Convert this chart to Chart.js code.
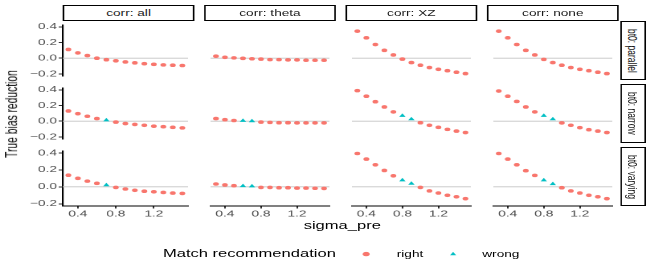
<!DOCTYPE html>
<html><head><meta charset="utf-8">
<script src="https://cdn.jsdelivr.net/npm/chart.js@4.4.1/dist/chart.umd.min.js"></script>
<style>
html,body{margin:0;padding:0;background:#fff;overflow:hidden;width:654px;height:273px;}
#fig{position:absolute;left:0;top:0;width:407px;height:273px;transform:scaleX(1.607);transform-origin:0 0;font-family:"Liberation Sans",Arial,Helvetica,sans-serif;overflow:hidden;}
#fig canvas{position:absolute;}
.strip{position:absolute;box-sizing:border-box;border:1px solid #000;background:#fff;color:#1a1a1a;font-size:8.5px;display:flex;align-items:center;justify-content:center;white-space:nowrap;}
.strip.v span{writing-mode:vertical-rl;}
.txt{position:absolute;white-space:nowrap;color:#000;line-height:1;}
</style></head><body><div id="fig"></div>
<script>
// ---------------- data ----------------
const sigmaPre = [0.3,0.4,0.5,0.6,0.7,0.8,0.9,1.0,1.1,1.2,1.3,1.4,1.5];
const corrLevels = ['all','theta','XZ','none'];
const bt0Levels = ['parallel','narrow','varying'];
const xTickValues = [0.4,0.8,1.2];
const yTickValues = [-0.2,0.0,0.2,0.4];
const matchLevels = ['right','wrong'];

// True bias reduction, one array per facet (bt0 x corr)
const parallel_all   = [0.111,0.067,0.033,0.000,-0.019,-0.033,-0.048,-0.059,-0.070,-0.078,-0.085,-0.089,-0.093];
const parallel_theta = [0.026,0.011,0.004,-0.002,-0.007,-0.011,-0.018,-0.018,-0.022,-0.022,-0.026,-0.026,-0.026];
const parallel_XZ    = [0.344,0.259,0.174,0.100,0.041,-0.011,-0.056,-0.089,-0.119,-0.141,-0.159,-0.178,-0.196];
const parallel_none  = [0.344,0.259,0.174,0.100,0.041,-0.015,-0.056,-0.089,-0.119,-0.141,-0.159,-0.178,-0.196];
const narrow_all     = [0.130,0.096,0.063,0.033,0.013,-0.011,-0.030,-0.041,-0.052,-0.063,-0.070,-0.078,-0.085];
const narrow_theta   = [0.033,0.019,0.009,0.006,0.002,-0.011,-0.015,-0.019,-0.019,-0.022,-0.022,-0.022,-0.022];
const narrow_XZ      = [0.389,0.318,0.248,0.181,0.118,0.070,0.026,-0.019,-0.052,-0.078,-0.104,-0.126,-0.144];
const narrow_none    = [0.384,0.318,0.251,0.181,0.118,0.070,0.026,-0.022,-0.052,-0.082,-0.108,-0.126,-0.144];
const varying_all    = [0.137,0.100,0.067,0.041,0.020,-0.007,-0.026,-0.041,-0.052,-0.059,-0.067,-0.074,-0.078];
const varying_theta  = [0.033,0.022,0.013,0.010,0.007,-0.007,-0.007,-0.011,-0.011,-0.015,-0.015,-0.017,-0.019];
const varying_XZ     = [0.393,0.327,0.260,0.193,0.130,0.078,0.038,-0.007,-0.048,-0.073,-0.100,-0.118,-0.140];
const varying_none   = [0.393,0.327,0.260,0.190,0.135,0.078,0.034,-0.011,-0.048,-0.073,-0.100,-0.118,-0.140];

// sigma_pre values where the match recommendation is "wrong"
const wrong_parallel_all = [],    wrong_parallel_theta = [],        wrong_parallel_XZ = [],        wrong_parallel_none = [];
const wrong_narrow_all   = [0.7], wrong_narrow_theta   = [0.6,0.7], wrong_narrow_XZ   = [0.8,0.9], wrong_narrow_none   = [0.8,0.9];
const wrong_varying_all  = [0.7], wrong_varying_theta  = [0.6,0.7], wrong_varying_XZ  = [0.8,0.9], wrong_varying_none  = [0.8,0.9];

const refLineValue = 0;

const facetValues = {
  parallel:{all:parallel_all,theta:parallel_theta,XZ:parallel_XZ,none:parallel_none},
  narrow:{all:narrow_all,theta:narrow_theta,XZ:narrow_XZ,none:narrow_none},
  varying:{all:varying_all,theta:varying_theta,XZ:varying_XZ,none:varying_none}
};
const facetWrong = {
  parallel:{all:wrong_parallel_all,theta:wrong_parallel_theta,XZ:wrong_parallel_XZ,none:wrong_parallel_none},
  narrow:{all:wrong_narrow_all,theta:wrong_narrow_theta,XZ:wrong_narrow_XZ,none:wrong_narrow_none},
  varying:{all:wrong_varying_all,theta:wrong_varying_theta,XZ:wrong_varying_XZ,none:wrong_varying_none}
};

// ---------------- layout / style ----------------
const COL_RIGHT = '#F8766D', COL_WRONG = '#00BFC4';
const FONT = '"Liberation Sans", Arial, Helvetica, sans-serif';
const colLeft = [39,127,215,303], PW = 82;
const rowTop = [21,84,147], PH = 59;
const XAXIS_H = 16;
const X_MIN = 0.24, X_MAX = 1.56, Y_MIN = -0.2265, Y_MAX = 0.4225;
const fig = document.getElementById('fig');

function fmt(v){ const s = Math.abs(v).toFixed(1); return (v < -1e-9 ? '\u2212' : '') + s; }

const hlinePlugin = {
  id:'hline',
  beforeDatasetsDraw(chart){
    const {ctx, chartArea:a, scales:{y}} = chart;
    const py = y.getPixelForValue(refLineValue);
    ctx.save(); ctx.strokeStyle = '#c4c4c4'; ctx.lineWidth = 0.8;
    ctx.beginPath(); ctx.moveTo(a.left, py); ctx.lineTo(a.right, py); ctx.stroke(); ctx.restore();
  }
};

function makeCanvas(left, top, w, h){
  const cv = document.createElement('canvas');
  cv.width = w; cv.height = h;
  cv.style.left = left + 'px'; cv.style.top = top + 'px';
  cv.style.width = w + 'px'; cv.style.height = h + 'px';
  fig.appendChild(cv);
  return cv;
}
function zeroPad(s){ s.paddingLeft = 0; s.paddingRight = 0; s.paddingTop = 0; s.paddingBottom = 0; }

bt0Levels.forEach((bt0, r) => {
  corrLevels.forEach((corr, c) => {
    const isLeft = c === 0, isBottom = r === 2;
    const left = isLeft ? 0 : colLeft[c];
    const w = isLeft ? colLeft[0] + PW : PW;
    const h = isBottom ? PH + XAXIS_H : PH;
    const vals = facetValues[bt0][corr], wrong = facetWrong[bt0][corr];
    const rightPts = [], wrongPts = [];
    sigmaPre.forEach((s, i) => {
      const isWrong = wrong.some(v => Math.abs(v - s) < 1e-9);
      (isWrong ? wrongPts : rightPts).push({x:s, y:vals[i]});
    });
    new Chart(makeCanvas(left, rowTop[r], w, h), {
      type:'scatter',
      data:{datasets:[
        {label:matchLevels[0], data:rightPts, pointStyle:'circle', pointRadius:1.8, backgroundColor:COL_RIGHT, borderWidth:0, clip:false},
        {label:matchLevels[1], data:wrongPts, pointStyle:'triangle', pointRadius:2.3, backgroundColor:COL_WRONG, borderWidth:0, clip:false}
      ]},
      options:{
        responsive:false, animation:false, events:[], devicePixelRatio:2,
        layout:{padding:0},
        plugins:{legend:{display:false}, tooltip:{enabled:false}},
        scales:{
          x:{type:'linear', min:X_MIN, max:X_MAX, bounds:'data', display:isBottom,
             afterFit:s=>{ s.height = isBottom ? XAXIS_H : 0; zeroPad(s); },
             afterBuildTicks:s=>{ s.ticks = xTickValues.map(v=>({value:v})); },
             ticks:{autoSkip:false, maxRotation:0, padding:0.5, color:'#4d4d4d', font:{family:FONT, size:8.5}, callback:v=>fmt(v)},
             grid:{display:true, drawOnChartArea:false, drawTicks:true, tickLength:2.5, color:'#333', lineWidth:1},
             border:{display:true, color:'#000', width:1}},
          y:{type:'linear', min:Y_MIN, max:Y_MAX, bounds:'data', display:isLeft,
             afterFit:s=>{ s.width = isLeft ? colLeft[0] : 0; zeroPad(s); },
             afterBuildTicks:s=>{ s.ticks = yTickValues.map(v=>({value:v})); },
             ticks:{autoSkip:false, padding:1, color:'#4d4d4d', font:{family:FONT, size:8.5}, callback:v=>fmt(v)},
             grid:{display:true, drawOnChartArea:false, drawTicks:true, tickLength:2.5, color:'#333', lineWidth:1},
             border:{display:true, color:'#000', width:1.1}}
        }
      },
      plugins:[hlinePlugin]
    });
  });
});

// strips
corrLevels.forEach((corr, c) => {
  const d = document.createElement('div');
  d.className = 'strip';
  d.style.left = colLeft[c] + 'px'; d.style.top = '5px';
  d.style.width = PW + 'px'; d.style.height = '16px';
  d.textContent = 'corr: ' + corr;
  fig.appendChild(d);
});
bt0Levels.forEach((bt0, r) => {
  const d = document.createElement('div');
  d.className = 'strip v';
  d.style.left = '386px'; d.style.top = rowTop[r] + 'px';
  d.style.width = '16px'; d.style.height = PH + 'px';
  const sp = document.createElement('span'); sp.textContent = 'bt0: ' + bt0;
  d.appendChild(sp);
  fig.appendChild(d);
});

function addText(txt, left, top, size, extra){
  const d = document.createElement('div');
  d.className = 'txt'; d.textContent = txt;
  d.style.left = left + 'px'; d.style.top = top + 'px'; d.style.fontSize = size + 'px';
  if (extra) Object.assign(d.style, extra);
  fig.appendChild(d);
  return d;
}
// axis titles
addText('True bias reduction', 7.8, 113.5, 10.3, {writingMode:'vertical-rl', transform:'translate(-50%,-50%) rotate(180deg)'});
addText('sigma_pre', 213, 226, 10.3, {transform:'translate(-50%,-50%)'});
// legend texts
addText('Match recommendation', 101.4, 254, 10.3, {transform:'translateY(-50%)'});
addText(matchLevels[0], 246.9, 254, 8.5, {transform:'translateY(-50%)'});
addText(matchLevels[1], 300.1, 254, 8.5, {transform:'translateY(-50%)'});

// legend keys drawn by Chart.js legend
const LEG_PAD = 43.85;
new Chart(makeCanvas(180.95, 205.9, 160, 160), {
  type:'scatter',
  data:{datasets:[
    {label:matchLevels[0], data:[], pointStyle:'circle', backgroundColor:COL_RIGHT, borderWidth:0},
    {label:matchLevels[1], data:[], pointStyle:'triangle', backgroundColor:COL_WRONG, borderWidth:0}
  ]},
  options:{
    responsive:false, animation:false, events:[], devicePixelRatio:2,
    scales:{x:{display:false}, y:{display:false}},
    plugins:{tooltip:{enabled:false},
      legend:{display:true, position:'top', align:'start',
        labels:{usePointStyle:true, boxWidth:6, boxHeight:3.1, padding:LEG_PAD, font:{size:8.5},
          generateLabels:(chart)=>Chart.defaults.plugins.legend.labels.generateLabels(chart).map(l=>Object.assign(l,{text:''}))}}}
  }
});
</script></body></html>
